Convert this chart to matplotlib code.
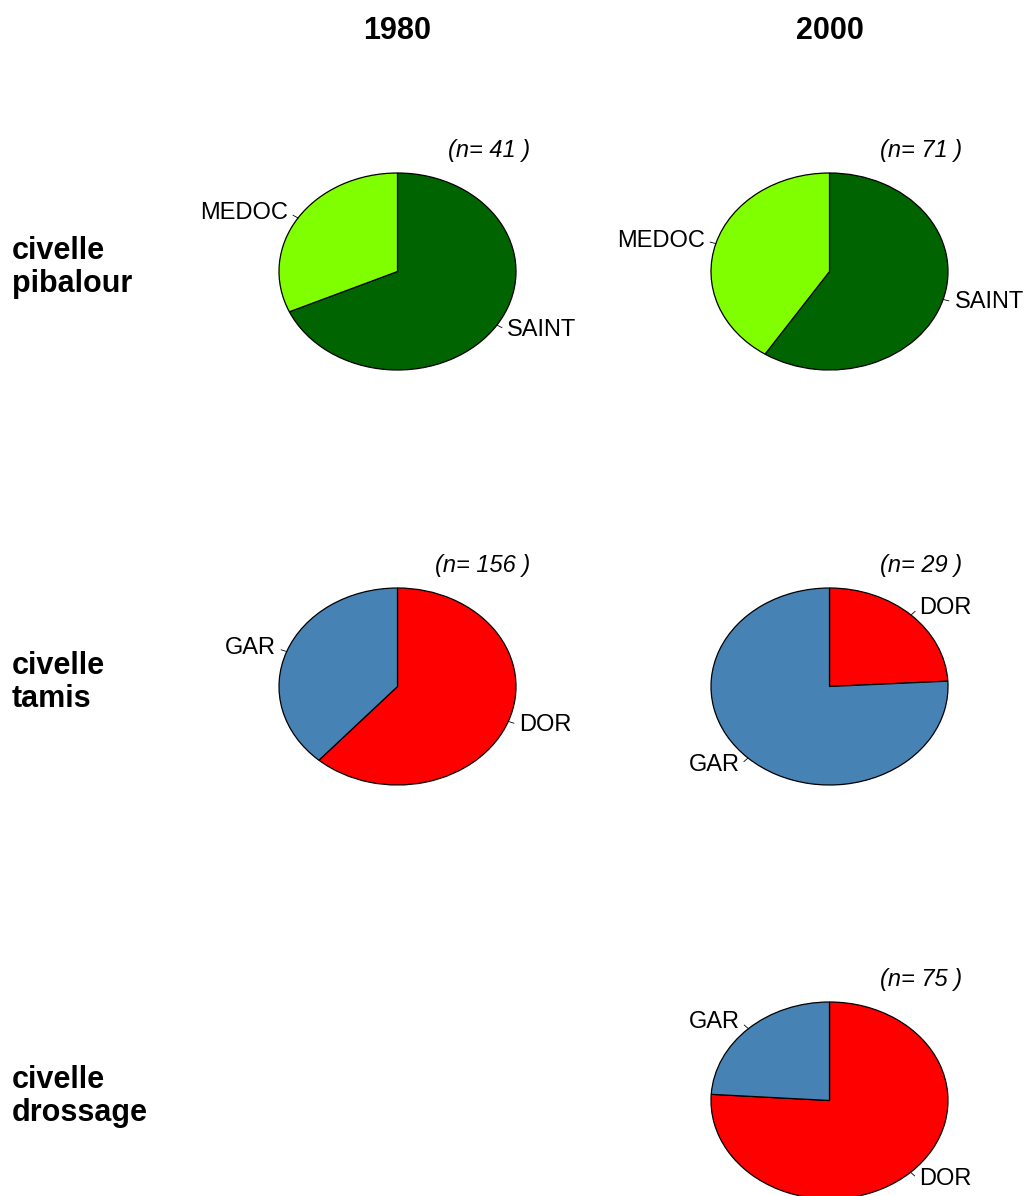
import numpy as np
import matplotlib.pyplot as plt

plt.rcParams['font.family'] = ['Liberation Sans', 'DejaVu Sans']

# data
years = ['1980', '2000']
gears = ['civelle\npibalour', 'civelle\ntamis', 'civelle\ndrossage']

pib_labels = ['SAINT', 'MEDOC']
pib_1980 = [28, 13]
pib_2000 = [42, 29]

tam_labels = ['DOR', 'GAR']
tam_1980 = [96, 60]
tam_2000 = [7, 22]

dro_labels = ['DOR', 'GAR']
dro_2000 = [57, 18]

colors = {'SAINT': '#006400', 'MEDOC': '#7FFF00', 'DOR': '#FF0000', 'GAR': '#4682B4'}

# (row, col) -> (labels, values)
pies = {
    (0, 0): (pib_labels, pib_1980),
    (0, 1): (pib_labels, pib_2000),
    (1, 0): (tam_labels, tam_1980),
    (1, 1): (tam_labels, tam_2000),
    (2, 1): (dro_labels, dro_2000),
}

W, H = 1033, 1196
fig = plt.figure(figsize=(W / 100, H / 100), dpi=100)

col_x = [397.5, 829.5]
row_y = [271.5, 686.5, 1100.5]
rx, ry = 118.5, 98.5
pad = 1.5


def px_axes(cx, cy):
    left = (cx - rx * pad) / W
    bottom = 1 - (cy + ry * pad) / H
    return fig.add_axes([left, bottom, 2 * rx * pad / W, 2 * ry * pad / H])


for (r, c), (labs, vals) in pies.items():
    ax = px_axes(col_x[c], row_y[r])
    ax.pie(vals, colors=[colors[l] for l in labs], startangle=90, counterclock=False,
           radius=1.0, wedgeprops=dict(edgecolor='black', linewidth=0.9))
    ax.set_aspect('auto')
    ax.set_xlim(-pad, pad)
    ax.set_ylim(-pad, pad)
    ax.axis('off')

    # R style labels
    frac = np.cumsum([0] + list(vals)) / sum(vals)
    for i, lab in enumerate(labs):
        mid = np.pi / 2 - 2 * np.pi * (frac[i] + frac[i + 1]) / 2
        cs, sn = np.cos(mid), np.sin(mid)
        ax.plot([cs, 1.05 * cs], [sn, 1.05 * sn], color='black', lw=0.6)
        ax.text(1.1 * cs, 1.1 * sn, lab, fontsize=17,
                ha='left' if cs > 0 else 'right', va='center')

    fig.text((col_x[c] + 133) / W, 1 - (row_y[r] - 121) / H, '(n= %d )' % sum(vals),
             fontsize=17, style='italic', ha='right', va='center')

for c, yr in enumerate(years):
    fig.text(col_x[c] / W, 1 - 31 / H, yr, fontsize=22, fontweight='bold',
             ha='center', va='center')

for r, g in enumerate(gears):
    fig.text(12 / W, 1 - (row_y[r] - 4) / H, g, fontsize=22, fontweight='bold',
             ha='left', va='center', linespacing=1.1)

fig.savefig('out.png', dpi=100)
